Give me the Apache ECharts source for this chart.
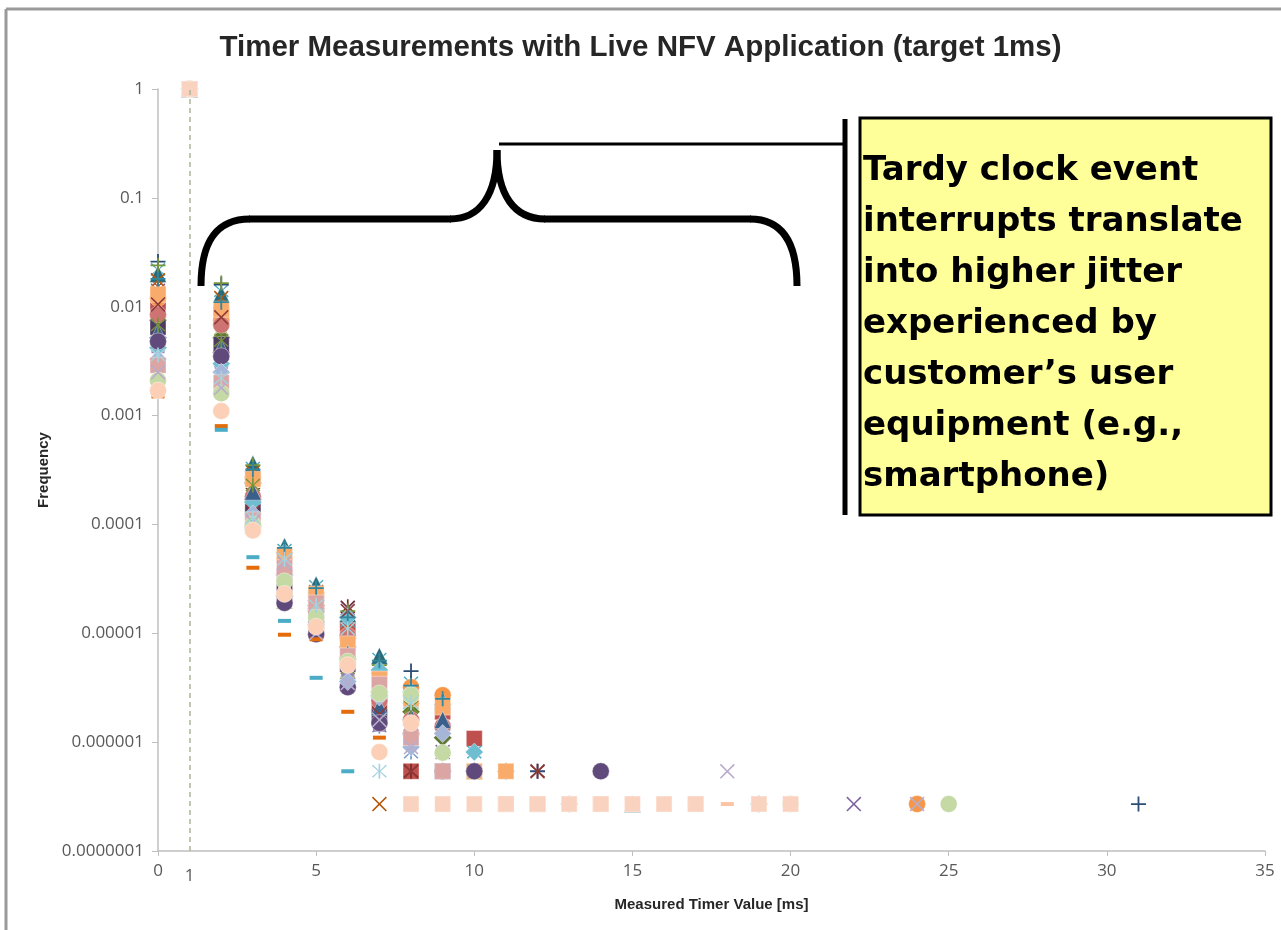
<!DOCTYPE html>
<html>
<head>
<meta charset="utf-8">
<script src="https://cdn.jsdelivr.net/npm/echarts@6/dist/echarts.min.js"></script>
<style>html,body{margin:0;padding:0;background:#fff;}#c{width:1281px;height:930px;}</style>
</head>
<body>
<div id="c"></div>
<script>
// ---------- data (x = measured timer value in ms, y = frequency) ----------
const titleText = 'Timer Measurements with Live NFV Application (target 1ms)';
const xAxisName = 'Measured Timer Value [ms]';
const yAxisName = 'Frequency';
const yTickLabels = ['0.0000001','0.000001','0.00001','0.0001','0.001','0.01','0.1','1'];
const targetValue = 1;
const noteText = ['Tardy clock event','interrupts translate','into higher jitter','experienced by','customer\u2019s user','equipment (e.g.,','smartphone)'];

const run01 = [[0,0.0052],[1,1],[2,0.0038],[3,0.00017],[4,0.000035],[5,0.000016],[6,0.0000075],[7,0.0000027],[8,0.0000016],[9,0.0000011],[10,0.00000054]];
const run02 = [[0,0.011],[1,1],[2,0.0085],[3,0.00012],[4,0.000028],[5,0.000014],[6,0.000011],[7,0.0000022],[8,0.00000054],[9,0.0000019],[10,0.00000108],[11,0.00000027]];
const run03 = [[0,0.0095],[1,1],[2,0.0062],[3,0.00029],[4,0.00002],[5,0.000012],[6,0.0000045],[7,0.0000035],[8,0.0000024],[9,0.0000016],[10,0.00000054]];
const run04 = [[0,0.014],[1,1],[2,0.0098],[3,0.00022],[4,0.000021],[5,0.000021],[6,0.000017],[7,0.0000016],[8,0.0000013],[9,0.00000081],[22,0.00000027]];
const run05 = [[0,0.022],[1,1],[2,0.014],[3,0.00033],[4,0.000058],[5,0.000027],[6,0.000013],[7,0.0000058],[8,0.0000035],[9,0.0000022],[10,0.00000081],[11,0.00000054]];
const run06 = [[0,0.012],[1,1],[2,0.0075],[3,0.00027],[4,0.000047],[5,0.000022],[6,0.000009],[7,0.0000043],[8,0.0000032],[9,0.0000027],[10,0.00000054],[24,0.00000027]];
const run07 = [[0,0.026],[1,1],[2,0.016],[3,0.00025],[4,0.000045],[5,0.000019],[6,0.000007],[7,0.000002],[8,0.0000045],[9,0.0000013],[12,0.00000054],[31,0.00000027]];
const run08 = [[0,0.0155],[1,1],[2,0.01],[3,0.00019],[4,0.00003],[5,0.000015],[6,0.0000175],[7,0.0000019],[8,0.00000054],[12,0.00000054]];
const run09 = [[0,0.0075],[1,1],[2,0.0052],[3,0.00024],[4,0.000022],[5,0.000018],[6,0.0000058],[7,0.0000029],[8,0.0000019],[9,0.0000011]];
const run10 = [[0,0.0065],[1,1],[2,0.0045],[3,0.00015],[4,0.000024],[5,0.000011],[6,0.0000052],[7,0.0000017],[8,0.0000011],[9,0.00000054],[12,0.00000027]];
const run11 = [[0,0.02],[1,1],[2,0.013],[3,0.00036],[4,0.000063],[5,0.000028],[6,0.000015],[7,0.0000062],[8,0.0000027],[9,0.0000024],[15,0.00000027]];
const run12 = [[0,0.0175],[1,1],[2,0.012],[3,0.0003],[4,0.00005],[5,0.000024],[6,0.000012],[7,0.00000027],[8,0.0000014]];
const run13 = [[0,0.0045],[1,1],[2,0.0032],[3,0.00014],[4,0.000032],[5,0.000013],[6,0.0000034],[7,0.0000014],[8,0.00000081],[16,0.00000027]];
const run14 = [[0,0.0085],[1,1],[2,0.0068],[3,0.00018],[4,0.000038],[5,0.000017],[6,0.0000095],[7,0.0000024],[8,0.0000016],[9,0.0000014]];
const run15 = [[0,0.024],[1,1],[2,0.0165],[3,0.00035],[4,0.00006],[5,0.000025],[6,0.000016],[7,0.0000051],[8,0.0000022],[9,0.0000019]];
const run16 = [[0,0.0039],[1,1],[2,0.0028],[3,0.00011],[4,0.000026],[5,0.0000105],[6,0.0000042],[7,0.0000013]];
const run17 = [[0,0.0042],[1,1],[2,0.003],[3,0.00016],[4,0.000055],[5,0.00002],[6,0.000014],[7,0.0000046],[8,0.0000029],[9,0.0000022],[10,0.00000081],[11,0.00000054],[19,0.00000027]];
const run18 = [[0,0.013],[1,1],[2,0.0095],[3,0.00026],[4,0.000052],[5,0.000023],[6,0.000008],[7,0.0000038],[8,0.0000025],[9,0.0000021],[10,0.00000054],[11,0.00000054],[12,0.00000027],[14,0.00000027]];
const run19 = [[0,0.0058],[1,1],[2,0.0042],[3,0.0002],[4,0.000036],[5,0.000015],[6,0.0000065],[7,0.0000021],[8,0.0000017],[9,0.0000016]];
const run20 = [[0,0.0105],[1,1],[2,0.008],[3,0.00013],[4,0.000027],[5,0.000013],[6,0.000016],[7,0.0000018],[8,0.00000054],[12,0.00000054]];
const run21 = [[0,0.0068],[1,1],[2,0.0049],[3,0.00023],[4,0.00002],[5,0.000012],[6,0.0000048],[7,0.000003],[8,0.0000021]];
const run22 = [[0,0.0048],[1,1],[2,0.0035],[3,0.000095],[4,0.000019],[5,0.0000098],[6,0.0000032],[7,0.0000015],[8,0.0000012],[9,0.00000054],[10,0.00000054],[14,0.00000054]];
const run23 = [[0,0.018],[1,1],[2,0.011],[3,0.00032],[4,0.000061],[5,0.000026],[6,0.000014],[7,0.0000056],[8,0.0000033],[9,0.0000025]];
const run24 = [[0,0.0015],[1,1],[2,0.0008],[3,0.00004],[4,0.0000097],[5,0.0000088],[6,0.0000019],[7,0.0000011]];
const run25 = [[0,0.0016],[1,1],[2,0.00074],[3,0.00005],[4,0.000013],[5,0.0000039],[6,0.00000054]];
const run26 = [[0,0.0033],[1,1],[2,0.0025],[3,0.000125],[4,0.000034],[5,0.000012],[6,0.0000036],[7,0.0000026],[8,0.0000009],[9,0.0000012],[13,0.00000027]];
const run27 = [[0,0.0029],[1,1],[2,0.002],[3,0.00011],[4,0.00004],[5,0.000019],[6,0.0000062],[7,0.0000034],[8,0.0000011],[9,0.00000054],[17,0.00000027]];
const run28 = [[0,0.0021],[1,1],[2,0.0016],[3,0.0001],[4,0.00003],[5,0.000014],[6,0.0000055],[7,0.0000028],[8,0.0000027],[9,0.0000008],[20,0.00000027],[25,0.00000027]];
const run29 = [[0,0.0025],[1,1],[2,0.0018],[3,0.000105],[4,0.000044],[5,0.00001],[6,0.0000035],[7,0.0000016],[8,0.0000009],[18,0.00000054],[24,0.00000027]];
const run30 = [[0,0.0036],[1,1],[2,0.0022],[3,0.000115],[4,0.000048],[5,0.000018],[6,0.000011],[7,0.00000054],[8,0.0000023]];
const run31 = [[0,0.0017],[1,1],[2,0.0011],[3,0.000088],[4,0.000023],[5,0.0000115],[6,0.0000051],[7,0.00000081],[8,0.0000015]];
const run32 = [[18,0.00000027]];
const run33 = [[1,1],[8,0.00000027],[9,0.00000027],[10,0.00000027],[11,0.00000027],[12,0.00000027],[13,0.00000027],[14,0.00000027],[15,0.00000027],[16,0.00000027],[17,0.00000027],[19,0.00000027],[20,0.00000027]];

const runs = [run01,run02,run03,run04,run05,run06,run07,run08,run09,run10,run11,run12,run13,run14,run15,run16,run17,run18,run19,run20,run21,run22,run23,run24,run25,run26,run27,run28,run29,run30,run31,run32,run33];

// ---------- styles ----------
const P_X = 'path://M0,1.5L1.5,0L10,8.5L18.5,0L20,1.5L11.5,10L20,18.5L18.5,20L10,11.5L1.5,20L0,18.5L8.5,10Z';
const P_PLUS = 'path://M8.8,0H11.2V8.8H20V11.2H11.2V20H8.8V11.2H0V8.8H8.8Z';
const P_STAR = 'path://M9,0H11V8.6L17.4,1.2L18.8,2.6L11.4,10L18.8,17.4L17.4,18.8L11,11.4V20H9V11.4L2.6,18.8L1.2,17.4L8.6,10L1.2,2.6L2.6,1.2L9,8.6Z';
const styleList = [
  ['#4F81BD','diamond'],['#C0504D','rect'],['#9BBB59','triangle'],['#8064A2','x'],['#4BACC6','star'],['#F79646','circle'],
  ['#2C4D75','plus'],['#772C2A','star'],['#5F7530','diamond'],['#4D3B62','rect'],['#276A7C','triangle'],['#B65708','x'],
  ['#729ACA','star'],['#CD7371','circle'],['#77933C','plus'],['#9983B5','dash'],['#6FBDD1','diamond'],['#F9AB6B','rect'],
  ['#3A5F8B','triangle'],['#8F3A37','x'],['#779339','star'],['#604A7B','circle'],['#31859C','plus'],['#E46C0A','dash'],
  ['#4BACC6','dash'],['#A5B6D8','diamond'],['#DBA5A4','rect'],['#C5D9A5','circle'],['#B9ACCB','x'],['#A4D4E0','star'],
  ['#FBD0B7','circle'],['#FBC5A5','dash'],['#FAD3C0','rect']
];
function symOf(k){ return k==='x'?P_X:k==='plus'?P_PLUS:k==='star'?P_STAR:k==='dash'?'rect':k; }
function sizeOf(k){ return k==='dash'?[13,4]:k==='triangle'?17:k==='rect'?16:k==='circle'?17:k==='diamond'?18:15; }

const series = runs.map((d,i)=>{
  const st = styleList[i];
  const solid = (st[1]==='rect'||st[1]==='circle'||st[1]==='diamond'||st[1]==='triangle');
  return {
    type:'scatter', name:'Run '+(i+1), data:d,
    symbol: symOf(st[1]), symbolSize: sizeOf(st[1]),
    itemStyle:{color:st[0], opacity:1, borderColor:'rgba(255,255,255,0.4)', borderWidth:solid?1:0},
    emphasis:{disabled:true},
    silent:true
  };
});
series[series.length-1].symbolSize = 16;
series.push({
  type:'scatter', data:[], silent:true,
  markLine:{
    silent:true, symbol:['none','none'],
    lineStyle:{color:'#A9B79A', type:[5,4], width:1.5},
    label:{show:true, position:'start', formatter:String(targetValue), color:'#595959', fontSize:17, fontFamily:'Open Sans', distance:17},
    data:[{xAxis:targetValue}]
  }
});

const chart = echarts.init(document.getElementById('c'), null, {renderer:'canvas'});
const braceStyle = {fill:null, stroke:'#000', lineWidth:7};
chart.setOption({
  animation:false,
  backgroundColor:'#ffffff',
  title:{text:titleText, left:'center', top:28, textStyle:{fontFamily:'Liberation Sans, sans-serif', fontWeight:'bold', fontSize:29.5, color:'#262626'}},
  grid:{left:158, right:16, top:89, bottom:79},
  xAxis:{
    type:'value', min:0, max:35, interval:5,
    name:xAxisName, nameLocation:'middle', nameGap:46,
    nameTextStyle:{fontFamily:'Liberation Sans, sans-serif', fontWeight:'bold', fontSize:15, color:'#262626'},
    axisLine:{lineStyle:{color:'#BFBFBF', width:1.5}},
    axisTick:{show:true, length:5, lineStyle:{color:'#BFBFBF'}},
    axisLabel:{fontFamily:'Open Sans', fontSize:17, color:'#595959', margin:12},
    splitLine:{show:false}
  },
  yAxis:{
    type:'log', logBase:10, min:1e-7, max:1, splitNumber:7,
    name:yAxisName, nameLocation:'middle', nameGap:106, nameRotate:90,
    nameTextStyle:{fontFamily:'Liberation Sans, sans-serif', fontWeight:'bold', fontSize:15, color:'#262626'},
    axisLine:{show:true, lineStyle:{color:'#BFBFBF', width:1.5}},
    axisTick:{show:true, length:6, lineStyle:{color:'#BFBFBF'}},
    axisLabel:{fontFamily:'Open Sans', fontSize:17, color:'#595959', margin:14,
      formatter:v=>yTickLabels[Math.round(Math.log10(v))+7]},
    splitLine:{show:false}, minorTick:{show:false}
  },
  graphic:[
    {type:'line', shape:{x1:6, y1:9, x2:1281, y2:9}, style:{stroke:'#9A9A9A', lineWidth:3}, z:100},
    {type:'line', shape:{x1:6, y1:9, x2:6, y2:930}, style:{stroke:'#9A9A9A', lineWidth:3}, z:100},
    {type:'bezierCurve', shape:{x1:201,y1:286,cpx1:201,cpy1:245,cpx2:214,cpy2:219,x2:250,y2:219}, style:braceStyle, z:100},
    {type:'line', shape:{x1:249,y1:219,x2:451,y2:219}, style:braceStyle, z:100},
    {type:'bezierCurve', shape:{x1:450,y1:219,cpx1:480,cpy1:219,cpx2:497,cpy2:195,x2:497,y2:150}, style:braceStyle, z:100},
    {type:'bezierCurve', shape:{x1:497,y1:150,cpx1:497,cpy1:195,cpx2:514,cpy2:219,x2:545,y2:219}, style:braceStyle, z:100},
    {type:'line', shape:{x1:544,y1:219,x2:751,y2:219}, style:braceStyle, z:100},
    {type:'bezierCurve', shape:{x1:750,y1:219,cpx1:784,cpy1:219,cpx2:797,cpy2:245,x2:797,y2:286}, style:braceStyle, z:100},
    {type:'line', shape:{x1:499, y1:144, x2:846, y2:144}, style:{stroke:'#000', lineWidth:3}, z:100},
    {type:'line', shape:{x1:845, y1:119, x2:845, y2:515}, style:{stroke:'#000', lineWidth:5}, z:100},
    {type:'rect', shape:{x:860, y:118, width:411, height:397}, style:{fill:'#FFFF99', stroke:'#000', lineWidth:3}, z:100},
    {type:'text', x:863, y:146, z:101, style:{text:noteText.join('\n'), font:'bold 34px "DejaVu Sans"', lineHeight:51, fill:'#000', verticalAlign:'top'}}
  ],
  series:series
});
</script>
</body>
</html>
